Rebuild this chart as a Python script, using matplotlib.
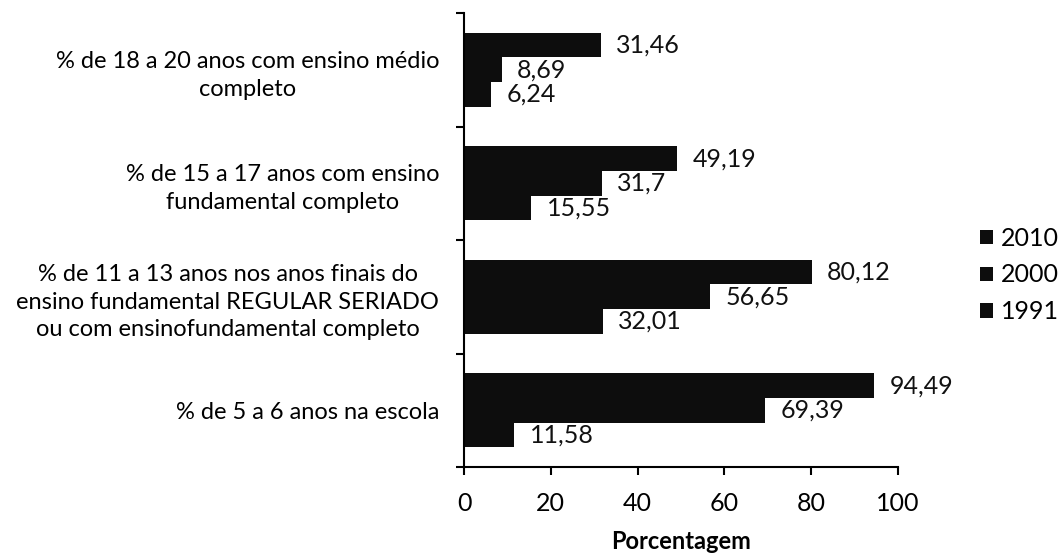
import matplotlib
matplotlib.use("Agg")
import matplotlib.pyplot as plt
import numpy as np

categories = [
    "% de 5 a 6 anos na escola",
    "% de 11 a 13 anos nos anos finais do\nensino fundamental REGULAR SERIADO\nou com ensinofundamental completo",
    "% de 15 a 17 anos com ensino\nfundamental completo",
    "% de 18 a 20 anos com ensino médio\ncompleto",
]
series_names = ["1991", "2000", "2010"]
values_1991 = [11.58, 32.01, 15.55, 6.24]
values_2000 = [69.39, 56.65, 31.7, 8.69]
values_2010 = [94.49, 80.12, 49.19, 31.46]
labels_1991 = ["11,58", "32,01", "15,55", "6,24"]
labels_2000 = ["69,39", "56,65", "31,7", "8,69"]
labels_2010 = ["94,49", "80,12", "49,19", "31,46"]
xticks = [0, 20, 40, 60, 80, 100]
xlabel = "Porcentagem"

plt.rcParams['font.family'] = ['Lato', 'DejaVu Sans']
FS = 18

fig = plt.figure(figsize=(10.62, 5.55), dpi=100)
ax = fig.add_axes([464/1062, 1 - 467/555, (898-464)/1062, (467-13)/555])

h = 0.217
y = np.arange(len(categories))
all_vals = [values_1991, values_2000, values_2010]
all_labels = [labels_1991, labels_2000, labels_2010]
offsets = [-h, 0, h]
bars = []
for vals, labs, off, name in zip(all_vals, all_labels, offsets, series_names):
    b = ax.barh(y + off, vals, height=h, color='#0d0d0d', label=name)
    bars.append(b)
    for yi, v, lab in zip(y + off, vals, labs):
        ax.annotate(lab, xy=(v, yi), xytext=(11, 0), textcoords='offset points',
                    va='center', ha='left', fontsize=FS, color='#111111')

ax.set_xlim(0, 100)
ax.set_ylim(-0.5, len(categories) - 0.5)
ax.set_xticks(xticks)
ax.set_xticklabels([str(t) for t in xticks], fontsize=FS)
ax.set_yticks(np.arange(len(categories) + 1) - 0.5, minor=False)
ax.set_yticklabels([])
ax.set_yticks(y, minor=True)
ax.set_yticklabels(categories, minor=True, fontsize=17, ha='right', multialignment='center', linespacing=1.4)
ax.tick_params(axis='y', which='minor', length=0, pad=18)
ax.tick_params(axis='y', which='major', length=6, width=1.5, direction='out')
ax.tick_params(axis='x', length=6, width=1.5, direction='out', pad=12)

ax.spines['top'].set_visible(False)
ax.spines['right'].set_visible(False)
ax.spines['left'].set_linewidth(1.5)
ax.spines['bottom'].set_linewidth(1.5)
fig.text((681) / 1062, 1 - 549 / 555, xlabel, fontsize=17, fontweight='bold',
         ha='center', va='baseline')

handles = [bars[2], bars[1], bars[0]]
leg = fig.legend(handles, ["2010", "2000", "1991"], loc='center left',
                 bbox_to_anchor=(980/1062, 1 - 275/555), frameon=False, fontsize=FS,
                 borderpad=0, borderaxespad=0,
                 handlelength=0.5, handleheight=0.5, handletextpad=0.35, labelspacing=0.55)

fig.savefig("out.png", dpi=100)
